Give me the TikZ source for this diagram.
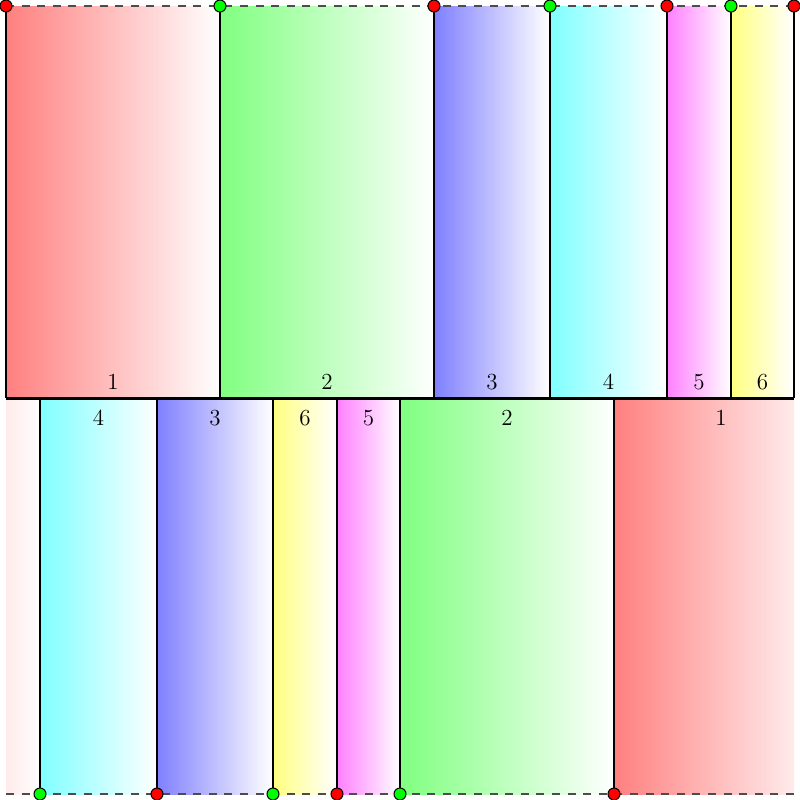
\documentclass[tikz,border=0pt]{standalone}
\begin{document}
\begin{tikzpicture}[x=0.5pt,y=-0.5pt]
\tikzset{
  lbl/.style={font=\fontsize{11.5}{14}\selectfont, inner sep=0pt},
  dotbase/.style={circle,draw=black,line width=0.5pt,inner sep=0pt,minimum size=6pt},
  dotr/.style={dotbase,fill=red},
  dotg/.style={dotbase,fill=green},
  edge/.style={draw=black,line width=0.6pt},
  midline/.style={draw=black,line width=1.4pt},
  rim/.style={draw=black!70,line width=0.7pt,dash pattern=on 4pt off 3.8pt}
}
\useasboundingbox (0,0) rectangle (800,800);
% top row
\foreach \xa/\xb/\col/\n in {6/220/red/1, 220/434/green/2, 434/550/blue/3, 550/667/cyan/4, 667/731/magenta/5, 731/794/yellow/6} {
  \shade[left color=\col!50, right color=white] (\xa,6) rectangle (\xb,398);
  \node[lbl] (top\n) at ({(\xa+\xb)/2},382) {\n};
}
% bottom row
\begin{scope}
  \clip (6,400) rectangle (794,794);
  \shade[left color=red!50, right color=white] (614,400) rectangle (828,794);
  \shade[left color=red!50, right color=white] (-174,400) rectangle (40,794);
\end{scope}
\node[lbl] (bot1) at (721,418) {1};
\foreach \xa/\xb/\col/\n in {40/157/cyan/4, 157/273/blue/3, 273/337/yellow/6, 337/400/magenta/5, 400/614/green/2} {
  \shade[left color=\col!50, right color=white] (\xa,400) rectangle (\xb,794);
  \node[lbl] (bot\n) at ({(\xa+\xb)/2},418) {\n};
}
% vertical edges
\foreach \x in {6,220,434,550,667,731,794} \draw[edge] (\x,6) -- (\x,398);
\foreach \x in {40,157,273,337,400,614} \draw[edge] (\x,399) -- (\x,794);
\draw[midline] (6,398.5) -- (794,398.5);
% dashed rims
\coordinate (tl) at (6,6);
\coordinate (tr) at (794,6);
\coordinate (bl) at (6,794);
\coordinate (br) at (794,794);
\draw[rim] (tl) -- (tr);
\draw[rim] (bl) -- (br);
% dots
\node[dotr] (t1) at (6,6) {};
\node[dotg] (t2) at (220,6) {};
\node[dotr] (t3) at (434,6) {};
\node[dotg] (t4) at (550,6) {};
\node[dotr] (t5) at (667,6) {};
\node[dotg] (t6) at (731,6) {};
\node[dotr] (t7) at (794,6) {};
\node[dotg] (b1) at (40,794) {};
\node[dotr] (b2) at (157,794) {};
\node[dotg] (b3) at (273,794) {};
\node[dotr] (b4) at (337,794) {};
\node[dotg] (b5) at (400,794) {};
\node[dotr] (b6) at (614,794) {};
\end{tikzpicture}
\end{document}
